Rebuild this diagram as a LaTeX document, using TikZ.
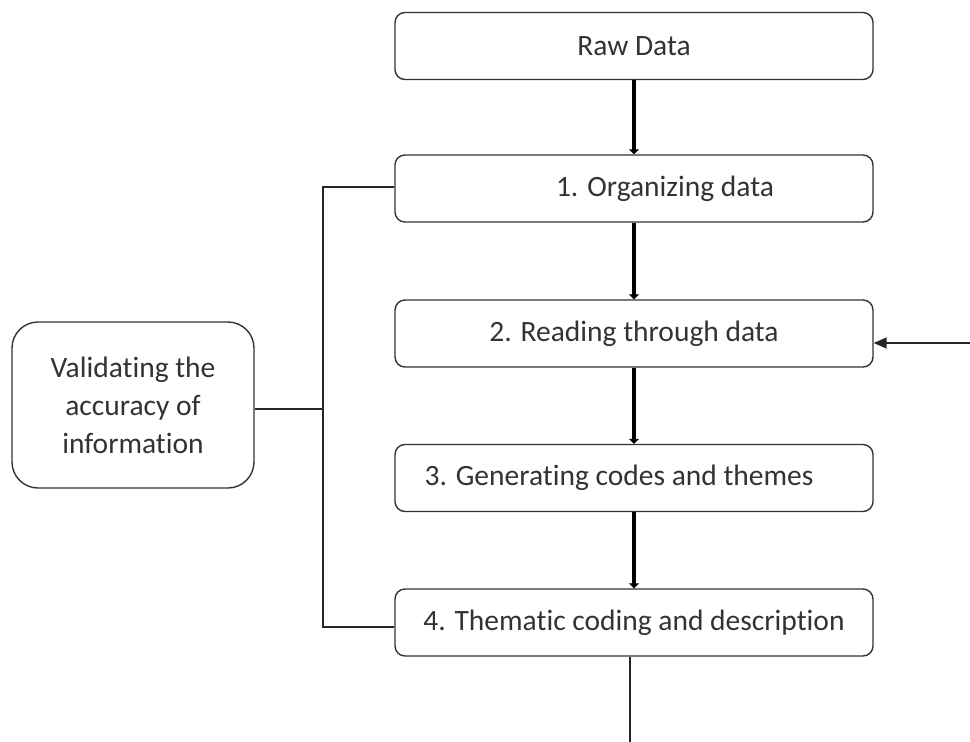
\documentclass[tikz,border=0pt]{standalone}
\usepackage{fontspec}
\setmainfont[Ligatures=CommonOff]{Carlito}
\usetikzlibrary{arrows.meta}
\begin{document}
\begin{tikzpicture}[x=1pt,y=-1pt,
  stepbox/.style={draw=black!80, line width=1.4pt, rounded corners=10pt, minimum width=478pt, minimum height=67pt, inner sep=0pt, font=\fontsize{29.5}{34}\selectfont, text=black!80},
  sidebox/.style={draw=black!80, line width=1.4pt, rounded corners=26pt, minimum width=242pt, minimum height=166pt, inner sep=0pt, align=center, font=\fontsize{29.5}{38}\selectfont, text=black!80},
  thickarrow/.style={line width=4.5pt, draw=black, -{Triangle[length=5pt,width=10pt]}},
  thinline/.style={line width=1.5pt, draw=black!85},
  fbarrow/.style={line width=1.5pt, draw=black!85, -{Triangle[length=13pt,width=11pt]}}
]
\useasboundingbox (0,0) rectangle (970,742);
\node[stepbox] (raw) at (634,46) {Raw Data};
\node[stepbox] (s1) at (634,188.5) {\hspace{62pt}1. Organizing data};
\node[stepbox] (s2) at (634,333.5) {2. Reading through data};
\node[stepbox] (s3) at (634,478) {\hspace{-30pt}3. Generating codes and themes};
\node[stepbox] (s4) at (634,622.5) {4. Thematic coding and description};
\node[sidebox] (val) at (133,405) {Validating the\\accuracy of\\information};

\draw[thickarrow] (raw.south) -- (s1.north);
\draw[thickarrow] (s1.south) -- (s2.north);
\draw[thickarrow] (s2.south) -- (s3.north);
\draw[thickarrow] (s3.south) -- (s4.north);

\coordinate (bj) at (323,409);
\draw[thinline] (val.east |- bj) -- (bj);
\draw[thinline] (s1.west |- 0,187) -| (bj) |- (s4.west |- 0,627);

\coordinate (fbstart) at (630,742);
\coordinate (fbin) at (970,343);
\draw[thinline] (s4.south -| fbstart) -- (fbstart);
\draw[fbarrow] (fbin) -- (s2.east |- fbin);
\end{tikzpicture}
\end{document}
